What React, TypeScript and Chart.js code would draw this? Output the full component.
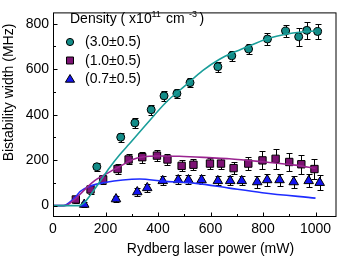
import React, { useEffect, useRef } from 'react';
import { Chart, registerables } from 'chart.js';

Chart.register(...registerables);

// ---- axis ticks ----
const xTicks = [0, 200, 400, 600, 800, 1000];
const xMinorTicks = [100, 300, 500, 700, 900];
const yTicks = [0, 200, 400, 600, 800];
const yMinorTicks = [100, 300, 500, 700];

// ---- legend labels ----
const legendLabels = ['(3.0±0.5)', '(1.0±0.5)', '(0.7±0.5)'];

// ---- density (3.0±0.5) ----
const powerHigh = [167, 258, 312, 374, 423, 472, 522, 628, 681, 745, 817, 886, 936, 967, 1008];
const widthHigh = [171, 301, 364, 422, 483, 493, 541, 611, 659, 689, 733, 768, 743, 771, 766];
const errHigh = [18, 20, 22, 22, 22, 20, 20, 22, 22, 24, 25, 27, 40, 38, 32];

// ---- density (1.0±0.5) ----
const powerMid = [87, 143, 191, 246, 288, 340, 396, 436, 490, 535, 598, 640, 688, 744, 798, 848, 900, 946, 996];
const widthMid = [27, 71, 115, 161, 203, 213, 220, 203, 175, 180, 185, 185, 165, 185, 199, 206, 192, 182, 161];
const errMid = [15, 18, 20, 22, 22, 24, 24, 26, 24, 24, 26, 26, 26, 30, 40, 44, 40, 42, 42];

// ---- density (0.7±0.5) ----
const powerLow = [119, 240, 321, 359, 418, 477, 516, 566, 628, 675, 719, 778, 816, 863, 917, 974, 1016];
const widthLow = [5, 29, 60, 78, 109, 113, 113, 113, 109, 109, 109, 104, 113, 113, 104, 109, 101];
const errLow = [10, 15, 18, 18, 20, 20, 20, 20, 20, 20, 20, 26, 26, 26, 26, 28, 34];

// ---- model curves ----
const fitHighX = [0, 50, 100, 120, 140, 178, 216, 254, 292, 355, 431, 507, 570, 633, 696, 759, 822, 886, 948, 1000];
const fitHighY = [0, 0, 0, 14, 43, 105, 168, 224, 273, 357, 455, 531, 594, 643, 678, 708, 736, 754, 764, 768];
const fitMidX = [0, 45, 77, 115, 153, 203, 254, 304, 342, 400, 481, 607, 671, 797, 923, 1000];
const fitMidY = [0, 0, 22, 64, 105, 140, 172, 203, 214, 218, 217, 210, 206, 193, 178, 164];
const fitLowX = [0, 40, 64, 90, 102, 140, 203, 266, 330, 418, 545, 671, 797, 1000];
const fitLowY = [0, 0, 15, 43, 61, 85, 103, 113, 117, 108, 98, 77, 57, 33];

const FONT = '"Liberation Sans", Arial, Helvetica, sans-serif';
const TEAL = '#138c88';
const TEAL_LINE = '#1a9e9a';
const PURPLE = '#7d1274';
const PURPLE_LINE = '#9a2490';
const BLUE = '#1414f0';
const BLUE_LINE = '#1e2cff';

const pts = (xs: number[], ys: number[]) => xs.map((x, i) => ({ x, y: ys[i] }));

function drawMarker(ctx: CanvasRenderingContext2D, style: string, x: number, y: number, fill: string) {
  ctx.save();
  ctx.fillStyle = fill;
  ctx.strokeStyle = '#000';
  ctx.lineWidth = 1;
  ctx.beginPath();
  if (style === 'circle') {
    ctx.arc(x, y, 3.6, 0, Math.PI * 2);
  } else if (style === 'rect') {
    ctx.rect(x - 3.5, y - 3.5, 7, 7);
  } else {
    ctx.moveTo(x, y - 4.5);
    ctx.lineTo(x + 4.6, y + 3.2);
    ctx.lineTo(x - 4.6, y + 3.2);
    ctx.closePath();
  }
  ctx.fill();
  ctx.stroke();
  ctx.restore();
}

export default function App() {
  const ref = useRef<HTMLCanvasElement>(null);

  useEffect(() => {
    document.body.style.margin = '0';
    if (!ref.current) return;

    const series = [
      { xs: powerHigh, ys: widthHigh, err: errHigh },
      { xs: powerMid, ys: widthMid, err: errMid },
      { xs: powerLow, ys: widthLow, err: errLow },
    ];

    const errorBars = {
      id: 'errorBars',
      beforeDatasetsDraw(chart: any) {
        const { ctx, scales } = chart;
        const x = scales.x, y = scales.y;
        ctx.save();
        ctx.strokeStyle = '#000';
        ctx.lineWidth = 1;
        series.forEach((s) => {
          s.xs.forEach((xv, i) => {
            const px = Math.round(x.getPixelForValue(xv)) + 0.5;
            const top = Math.round(y.getPixelForValue(s.ys[i] + s.err[i])) + 0.5;
            const bot = Math.round(y.getPixelForValue(s.ys[i] - s.err[i])) + 0.5;
            ctx.beginPath();
            ctx.moveTo(px, top);
            ctx.lineTo(px, bot);
            ctx.moveTo(px - 3, top);
            ctx.lineTo(px + 3, top);
            ctx.moveTo(px - 3, bot);
            ctx.lineTo(px + 3, bot);
            ctx.stroke();
          });
        });
        ctx.restore();
      },
    };

    const frame = {
      id: 'frame',
      afterDraw(chart: any) {
        const { ctx, chartArea, scales } = chart;
        const x = scales.x, y = scales.y;
        const { left, right, top, bottom } = chartArea;
        ctx.save();
        ctx.strokeStyle = '#000';
        ctx.lineWidth = 1;
        ctx.strokeRect(left + 0.5, top + 0.5, right - left - 1, bottom - top - 1);
        ctx.beginPath();
        const bx = bottom - 0.5;
        xTicks.forEach((v) => {
          const p = Math.round(x.getPixelForValue(v)) + 0.5;
          ctx.moveTo(p, bx);
          ctx.lineTo(p, bx - 4);
        });
        xMinorTicks.forEach((v) => {
          const p = Math.round(x.getPixelForValue(v)) + 0.5;
          ctx.moveTo(p, bx);
          ctx.lineTo(p, bx - 2.5);
        });
        const lx = left + 0.5;
        yTicks.forEach((v) => {
          const p = Math.round(y.getPixelForValue(v)) + 0.5;
          ctx.moveTo(lx, p);
          ctx.lineTo(lx + 4, p);
        });
        yMinorTicks.forEach((v) => {
          const p = Math.round(y.getPixelForValue(v)) + 0.5;
          ctx.moveTo(lx, p);
          ctx.lineTo(lx + 2.5, p);
        });
        ctx.stroke();

        // axis titles
        ctx.fillStyle = '#000';
        ctx.font = `14px ${FONT}`;
        ctx.textAlign = 'center';
        ctx.textBaseline = 'alphabetic';
        ctx.fillText('Rydberg laser power (mW)', 210.5, 252.5);
        ctx.save();
        ctx.translate(12.5, 92.5);
        ctx.rotate(-Math.PI / 2);
        ctx.fillText('Bistability width (MHz)', 0, 0);
        ctx.restore();

        // legend title
        ctx.textAlign = 'left';
        ctx.font = `14px ${FONT}`;
        ctx.fillText('Density ( x10', 70, 23);
        ctx.font = `9px ${FONT}`;
        ctx.fillText('11', 151.5, 17);
        ctx.font = `14px ${FONT}`;
        ctx.fillText('cm', 166, 23);
        ctx.font = `9px ${FONT}`;
        ctx.fillText('-3', 189, 17);
        ctx.font = `14px ${FONT}`;
        ctx.fillText(')', 199.5, 23);

        // legend entries
        const styles = ['circle', 'rect', 'triangle'];
        const fills = [TEAL, PURPLE, BLUE];
        const rows = [42, 60.5, 79];
        ctx.textBaseline = 'middle';
        rows.forEach((ry, i) => {
          drawMarker(ctx, styles[i], 70, ry, fills[i]);
          ctx.fillStyle = '#000';
          ctx.font = `14px ${FONT}`;
          ctx.fillText(legendLabels[i], 85, ry + 0.5);
        });
        ctx.restore();
      },
    };

    const lineBase = {
      showLine: true,
      pointRadius: 0,
      borderWidth: 1.6,
      cubicInterpolationMode: 'monotone' as const,
      order: 0,
    };

    const chart = new Chart(ref.current, {
      type: 'scatter',
      data: {
        datasets: [
          { ...lineBase, label: 'fit high', data: pts(fitHighX, fitHighY), borderColor: TEAL_LINE },
          { ...lineBase, label: 'fit mid', data: pts(fitMidX, fitMidY), borderColor: PURPLE_LINE },
          { ...lineBase, label: 'fit low', data: pts(fitLowX, fitLowY), borderColor: BLUE_LINE },
          {
            label: legendLabels[0], data: pts(powerHigh, widthHigh), pointStyle: 'circle', pointRadius: 4,
            backgroundColor: TEAL, borderColor: '#000', borderWidth: 1, order: 1,
          },
          {
            label: legendLabels[1], data: pts(powerMid, widthMid), pointStyle: 'rect', pointRadius: 5.2,
            backgroundColor: PURPLE, borderColor: '#000', borderWidth: 1, order: 1,
          },
          {
            label: legendLabels[2], data: pts(powerLow, widthLow), pointStyle: 'triangle', pointRadius: 5.5,
            backgroundColor: BLUE, borderColor: '#000', borderWidth: 1, order: 1,
          },
        ],
      },
      options: {
        responsive: false,
        animation: false,
        layout: { padding: { top: 2, right: 5, left: 0, bottom: 0 } },
        plugins: { legend: { display: false }, tooltip: { enabled: false } },
        scales: {
          x: {
            type: 'linear',
            min: 0,
            max: 1080,
            grid: { display: false, drawTicks: false },
            border: { display: false },
            afterBuildTicks: (s: any) => { s.ticks = xTicks.map((v) => ({ value: v })); },
            afterFit: (s: any) => { s.height = 41; },
            ticks: {
              font: { family: FONT, size: 14 }, color: '#000', padding: 4, maxRotation: 0, autoSkip: false,
              callback: (v: any) => String(v),
            },
          },
          y: {
            type: 'linear',
            min: -50,
            max: 850,
            grid: { display: false, drawTicks: false },
            border: { display: false },
            afterBuildTicks: (s: any) => { s.ticks = yTicks.map((v) => ({ value: v })); },
            afterFit: (s: any) => { s.width = 53; },
            ticks: {
              font: { family: FONT, size: 14 }, color: '#000', padding: 4, autoSkip: false,
              callback: (v: any) => String(v),
            },
          },
        },
      },
      plugins: [errorBars, frame],
    });

    return () => chart.destroy();
  }, []);

  return (
    <div style={{ position: 'absolute', left: 0, top: 0, width: 343, height: 258 }}>
      <canvas ref={ref} width={343} height={258} style={{ display: 'block' }} />
    </div>
  );
}
